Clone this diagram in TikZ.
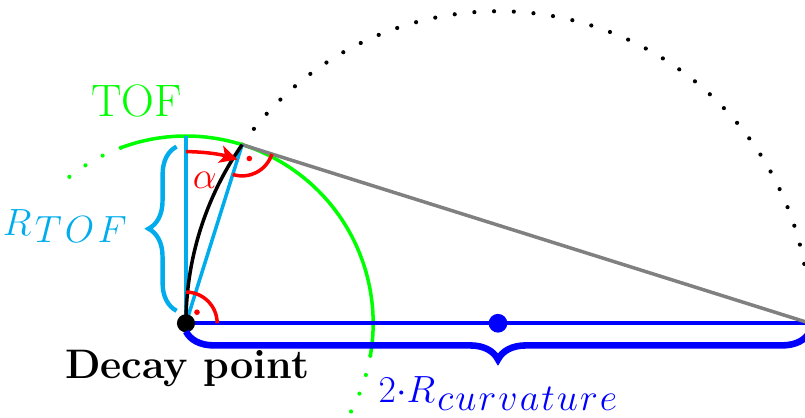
\documentclass[tikz,border=0pt]{standalone}
\usetikzlibrary{decorations.pathreplacing,arrows.meta,calc}
\definecolor{tofcyan}{RGB}{0,172,236}
\definecolor{tofgreen}{RGB}{0,255,0}
\newcommand{\lowsub}[1]{\raisebox{-3.5pt}{$#1$}}
\begin{document}
\begin{tikzpicture}[
  thickln/.style={line width=1.6pt},
  cyanln/.style={tofcyan, line width=1.6pt},
  dotln/.style={line width=1.9pt, line cap=round, dash pattern=on 0pt off 9pt},
  redln/.style={red, line width=1.6pt},
  bracedeco/.style={decorate, decoration={brace, amplitude=0.45cm}},
  mirrorbrace/.style={decorate, decoration={brace, mirror, amplitude=0.45cm}},
  mathlbl/.style={font=\fontsize{17}{20}\selectfont, anchor=base, inner sep=0pt}
]
\useasboundingbox (-2.98,-1.51) rectangle (9.92,5.18);
\coordinate (D) at (0,0);
\coordinate (C) at (5,0);
\coordinate (E) at (10,0);
\coordinate (P) at (72.54:3);
\coordinate (T) at (0,3);
\coordinate (BL) at (0,-0.13);
\coordinate (BR) at (10,-0.13);
\coordinate (CB) at (-0.15,0.2);
\coordinate (CT) at (-0.15,2.83);

% curvature circle (dotted continuation)
\draw[black, dotln] (P) arc[start angle=145.08, end angle=0, radius=5];

% TOF circle
\draw[tofgreen, thickln] (110.4:3) arc[start angle=110.4, end angle=-10, radius=3];
\draw[tofgreen, dotln] (110.4:3) arc[start angle=110.4, end angle=130, radius=3];
\draw[tofgreen, dotln] (-10:3) arc[start angle=-10, end angle=-30, radius=3];

% diameter and chord
\draw[blue, thickln] (D) -- (E);
\draw[gray, thickln] (P) -- (E);

% radii
\draw[cyanln] (D) -- (T);
\draw[cyanln] (D) -- (P);

% trajectory
\draw[black, thickln] (D) arc[start angle=180, end angle=145.08, radius=5];

% right angle marks
\draw[redln] (0,0.5) arc[start angle=90, end angle=0, radius=0.5];
\fill[red] (45:0.25) circle (0.045);
\draw[redln] ($(P)+(252.54:0.5)$) arc[start angle=252.54, end angle=342.54, radius=0.5];
\fill[red] ($(P)+(297.54:0.25)$) circle (0.045);

% alpha arrow
\draw[redln, -{Stealth[length=8pt,width=8pt,inset=2pt]}] (90:2.75) arc[start angle=90, end angle=72.54, radius=2.75];
\node[red, font=\LARGE] (alpha) at (0.3,2.29) {$\alpha$};

% points
\fill[black] (D) circle (0.145);
\fill[blue] (C) circle (0.15);

% braces
\draw[blue, line width=3pt, mirrorbrace] (BL) -- (BR);
\draw[tofcyan, line width=2pt, bracedeco] (CB) -- (CT);

% labels
\node[tofgreen, font=\huge] (tof) at (-0.79,3.57) {TOF};
\node[tofcyan, mathlbl] (rtof) at (-1.94,1.41) {$R\mskip1.6mu$\lowsub{T\mskip1.6mu O\mskip1.6mu F}};
\node[font=\fontsize{18.8}{22}\selectfont\bfseries] (decay) at (0.02,-0.73) {Decay point};
\node[blue, mathlbl] (curv) at (5,-1.27) {$2{\cdot}R\mskip1mu$\lowsub{c\mskip1mu u\mskip1mu r\mskip1mu v\mskip1mu a\mskip1mu t\mskip1mu u\mskip1mu r\mskip1mu e}};
\end{tikzpicture}
\end{document}
